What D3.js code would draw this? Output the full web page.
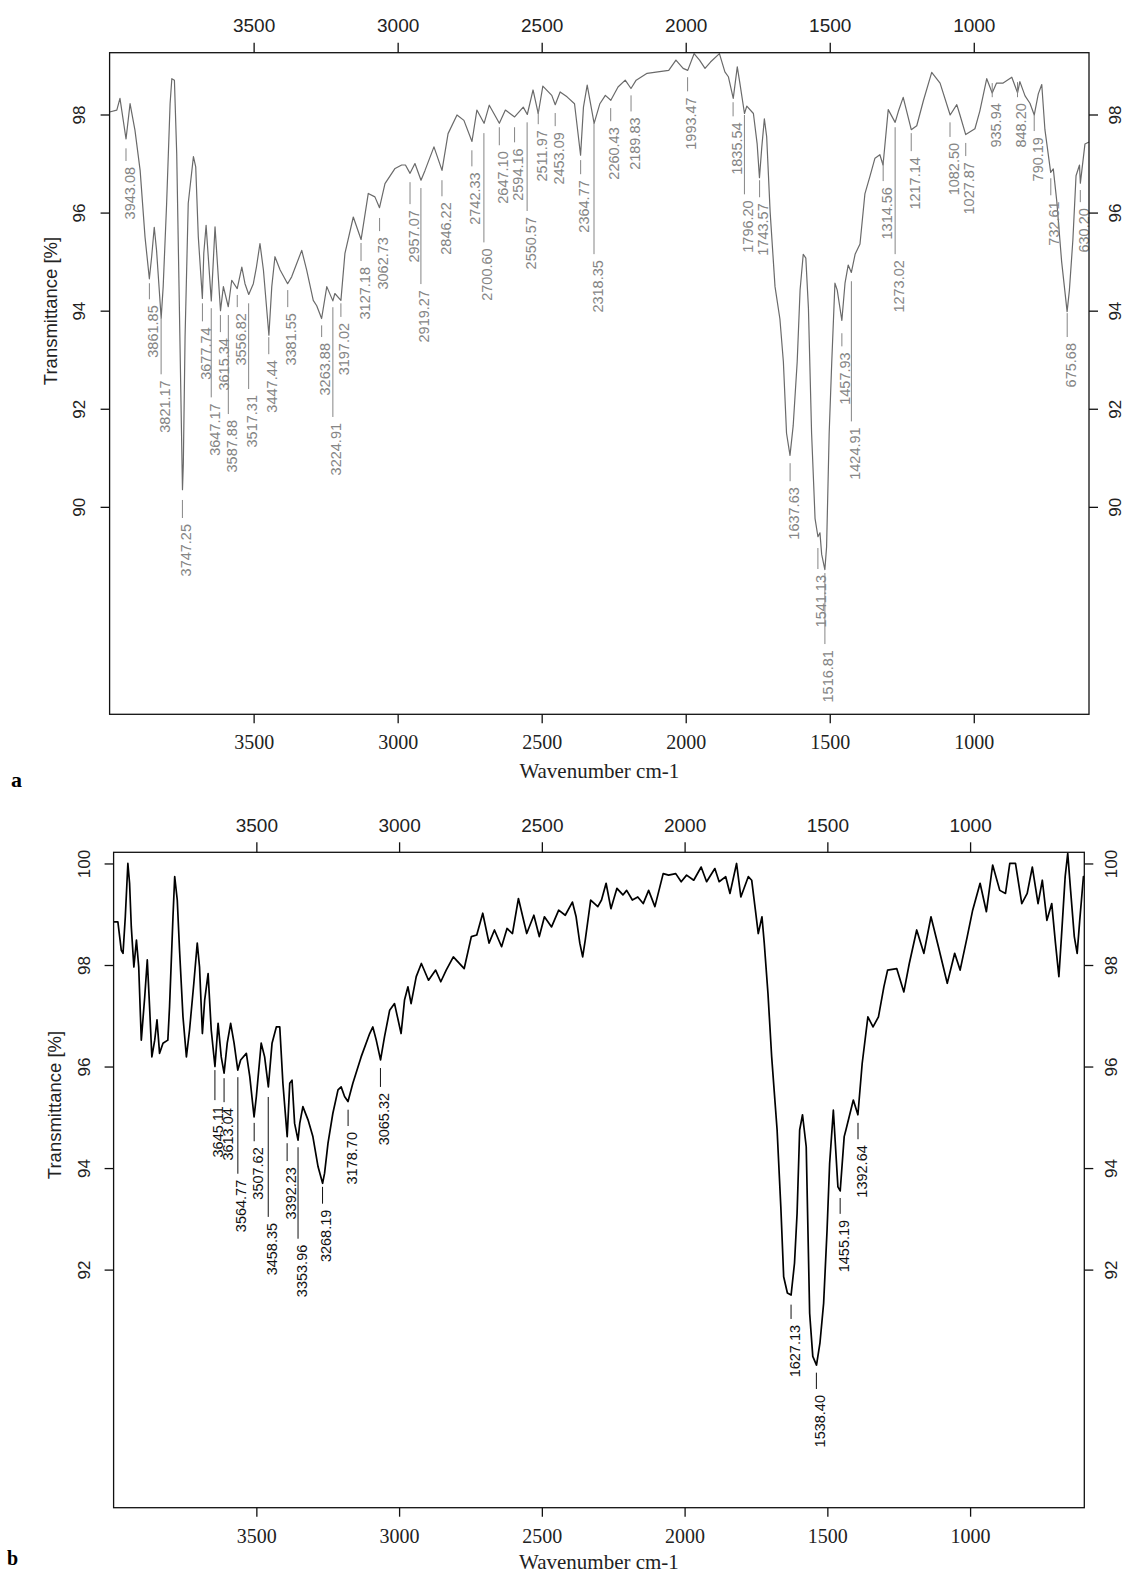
<!DOCTYPE html>
<html><head><meta charset="utf-8">
<script src="https://cdn.jsdelivr.net/npm/d3@7"></script>
<style>body{margin:0;background:#fff}svg{display:block}</style>
</head><body>
<script>
// ---------- DATA ----------
const xTicks = [3500, 3000, 2500, 2000, 1500, 1000];
const yTicksA = [98, 96, 94, 92, 90];
const yTicksB = [100, 98, 96, 94, 92];

// Spectrum a : wavenumber (cm-1) and transmittance (%)
const wnA = [4000,3975,3964,3943,3929,3912,3894,3877,3862,3854,3845,3837,3821,3814,3802,3790,3784,3775,3767,3759,3747,3744,3738,3727,3709,3701,3692,3678,3673,3665,3647,3634,3615,3605,3588,3576,3557,3541,3530,3517,3501,3490,3478,3466,3447,3437,3426,3408,3382,3368,3333,3316,3293,3281,3264,3246,3225,3218,3197,3183,3154,3127,3102,3079,3063,3044,3009,2986,2973,2957,2940,2919,2905,2874,2846,2825,2794,2770,2742,2725,2700,2682,2647,2626,2594,2564,2550,2530,2512,2496,2465,2453,2436,2412,2386,2365,2355,2342,2318,2298,2279,2260,2235,2210,2190,2172,2134,2097,2059,2034,2009,1993,1971,1952,1933,1914,1883,1864,1852,1835,1821,1812,1796,1788,1765,1752,1744,1736,1727,1719,1707,1690,1673,1661,1650,1638,1627,1613,1603,1592,1583,1574,1563,1551,1541,1534,1528,1517,1511,1502,1493,1482,1474,1458,1447,1436,1425,1412,1395,1378,1360,1343,1326,1315,1297,1273,1262,1245,1217,1198,1175,1146,1117,1082,1059,1048,1028,996,979,955,936,921,898,868,848,840,822,805,790,776,764,753,733,724,712,695,676,668,656,645,633,630,614,600];
const tA = [98.05,98.09,98.33,97.5,98.22,97.68,96.86,95.5,94.65,95.1,95.7,95.23,93.85,94.49,96.19,98.22,98.73,98.7,97.2,94.49,90.35,90.89,93.47,96.19,97.14,96.93,95.5,94.25,95.17,95.74,94.2,95.71,94.0,94.49,94.08,94.62,94.45,94.89,94.55,94.33,94.55,94.9,95.37,94.83,93.5,94.49,95.1,94.83,94.55,94.69,95.23,94.83,94.21,94.1,93.84,94.49,94.2,94.35,94.21,95.17,95.91,95.45,96.39,96.32,96.1,96.59,96.9,96.97,96.97,96.8,97.0,96.66,96.86,97.34,96.86,97.61,97.99,97.88,97.45,98.09,97.82,98.19,97.82,98.09,97.95,98.15,98.0,98.5,98.02,98.58,98.39,98.2,98.46,98.36,98.22,97.17,98.15,98.6,97.82,98.22,98.39,98.29,98.56,98.7,98.53,98.7,98.84,98.87,98.9,99.11,98.94,98.9,99.24,99.11,98.94,99.07,99.24,98.87,98.77,98.33,98.97,98.64,98.02,98.17,98.02,97.4,96.71,97.33,97.91,97.55,96.02,94.49,93.83,92.96,91.5,91.05,91.65,92.96,94.42,95.15,95.07,94.05,91.5,89.76,89.39,89.47,89.03,88.72,89.18,91.5,92.96,94.56,94.42,93.8,94.56,94.93,94.78,95.15,95.36,96.38,96.75,97.11,97.18,96.97,98.1,97.84,98.06,98.35,97.69,97.77,98.28,98.86,98.64,97.99,98.2,97.99,97.59,97.71,98.07,98.73,98.44,98.64,98.64,98.76,98.44,98.67,98.38,98.23,97.99,98.42,98.61,97.69,96.82,96.89,96.24,95.0,93.98,94.42,95.44,96.75,96.97,96.6,97.4,97.44];

// Spectrum b
const wnB = [4000,3985,3973,3967,3959,3950,3944,3938,3929,3920,3912,3903,3891,3882,3874,3866,3856,3848,3839,3827,3810,3804,3792,3786,3777,3769,3757,3745,3734,3719,3707,3699,3689,3681,3669,3658,3645,3634,3623,3613,3602,3590,3578,3565,3555,3535,3523,3508,3500,3483,3471,3458,3445,3430,3418,3407,3392,3383,3375,3366,3354,3348,3337,3319,3302,3284,3268,3261,3249,3232,3214,3203,3191,3179,3162,3133,3103,3092,3080,3065,3051,3033,3016,2993,2981,2969,2958,2940,2922,2897,2872,2854,2835,2810,2772,2747,2728,2707,2685,2666,2641,2622,2603,2582,2553,2528,2509,2491,2466,2441,2418,2393,2380,2367,2357,2348,2329,2304,2291,2275,2258,2237,2216,2203,2183,2164,2145,2126,2104,2075,2056,2031,2012,1993,1968,1942,1923,1894,1879,1856,1841,1818,1803,1777,1765,1752,1742,1729,1721,1708,1695,1683,1676,1663,1653,1640,1627,1615,1606,1597,1587,1574,1562,1551,1538,1526,1513,1501,1492,1479,1463,1455,1441,1435,1409,1393,1378,1358,1340,1321,1302,1289,1257,1232,1213,1187,1162,1137,1111,1080,1054,1035,1010,991,965,943,921,896,876,861,841,819,800,782,762,747,731,714,701,689,680,667,658,648,635,625,616,603,600];
const tB = [98.85,98.85,98.29,98.23,98.95,100.0,99.61,98.75,97.96,98.49,97.96,96.52,97.37,98.10,97.18,96.19,96.52,96.92,96.26,96.46,96.52,97.18,98.95,99.74,99.28,98.29,96.98,96.19,96.72,97.64,98.43,97.96,96.65,97.31,97.83,96.72,96.0,96.85,96.19,95.87,96.46,96.85,96.46,95.93,96.13,96.26,95.80,95.01,95.41,96.46,96.19,95.60,96.46,96.78,96.78,95.67,94.62,95.67,95.73,94.88,94.55,94.88,95.21,94.95,94.62,94.03,93.70,93.90,94.49,95.08,95.54,95.60,95.41,95.31,95.67,96.19,96.65,96.78,96.52,96.13,96.59,97.11,97.24,96.65,97.31,97.57,97.24,97.77,98.03,97.70,97.90,97.67,97.90,98.16,97.93,98.56,98.59,99.02,98.43,98.69,98.36,98.72,98.62,99.31,98.62,98.98,98.56,98.95,98.75,99.08,98.98,99.24,98.95,98.43,98.16,98.49,99.28,99.15,99.28,99.61,99.11,99.51,99.38,99.47,99.28,99.34,99.21,99.47,99.15,99.80,99.77,99.80,99.64,99.77,99.67,99.93,99.64,99.90,99.64,99.74,99.41,100.0,99.34,99.74,99.67,99.08,98.62,98.95,98.43,97.44,96.19,95.28,94.75,93.24,91.86,91.54,91.5,92.13,93.11,94.75,95.05,94.42,91.14,90.29,90.12,90.55,91.34,92.78,94.09,95.14,93.63,93.55,94.62,94.75,95.34,95.05,96.06,96.98,96.78,96.98,97.57,97.90,97.93,97.47,98.03,98.69,98.23,98.95,98.36,97.64,98.23,97.90,98.56,99.08,99.61,99.05,99.97,99.47,99.41,100.0,100.0,99.21,99.41,99.93,99.21,99.67,98.88,99.21,98.43,97.77,98.56,99.74,100.2,99.47,98.56,98.23,98.88,99.74,99.74];

// Peak annotations, spectrum a (marker top / label top, in transmittance units)
const peaksA = ["3943.08","3861.85","3821.17","3747.25","3677.74","3647.17","3615.34","3587.88","3556.82","3517.31","3447.44","3381.55","3263.88","3224.91","3197.02","3127.18","3062.73","2957.07","2919.27","2846.22","2742.33","2700.60","2647.10","2594.16","2550.57","2511.97","2453.09","2364.77","2318.35","2260.43","2189.83","1993.47","1835.54","1796.20","1743.57","1637.63","1541.13","1516.81","1457.93","1424.91","1314.56","1273.02","1217.14","1082.50","1027.87","935.94","848.20","790.19","732.61","675.68","630.20"];
const markTopA = [97.31,94.56,93.85,90.14,94.15,94.05,93.91,93.91,94.32,94.15,93.46,94.42,93.70,94.07,94.15,95.38,95.89,96.62,96.50,96.66,97.27,97.62,97.74,97.74,97.84,98.09,98.03,97.07,97.82,98.13,98.39,98.76,98.25,97.99,96.66,90.89,89.16,88.65,93.54,94.60,97.07,97.74,97.62,97.84,97.42,98.64,98.66,97.99,96.70,93.95,96.46];
const labelTopA = [96.93,94.11,92.58,89.65,93.66,92.11,93.44,91.77,93.95,92.28,92.99,93.95,93.34,91.71,93.75,94.89,95.50,96.05,94.42,96.21,96.82,95.27,97.25,97.31,95.91,97.68,97.64,96.66,95.03,97.74,97.94,98.35,97.84,96.25,96.19,90.40,88.61,87.08,93.15,91.62,96.52,95.03,97.13,97.42,97.03,98.23,98.23,97.54,96.23,93.34,96.09];

// Peak annotations, spectrum b
const peaksB = ["3645.11","3613.04","3564.77","3507.62","3458.35","3392.23","3353.96","3268.19","3178.70","3065.32","1627.13","1538.40","1455.19","1392.64"];
const markTopB = [95.93,95.77,95.79,94.89,95.40,94.49,94.41,93.63,95.15,95.97,91.31,89.97,93.41,94.89];
const labelTopB = [95.22,95.18,93.77,94.41,92.92,94.02,92.49,93.18,94.71,95.48,90.91,89.53,92.98,94.45];

// ---------- DRAWING ----------
const W = 1128, H = 1573;
const SANS = '"Liberation Sans", Arial, Helvetica, sans-serif';
const SERIF = '"Liberation Serif", "Times New Roman", serif';
const svg = d3.select('body').append('svg').attr('width', W).attr('height', H);

function drawPanel(o) {
  const x = d3.scaleLinear().domain([4000, 600]).range([o.left, o.right]);
  const y = d3.scaleLinear().domain(o.yDomain).range([o.bottom, o.top]);
  const g = svg.append('g');

  // spectrum
  const pts = o.wn.map((w, i) => [w, o.t[i]]);
  g.append('path').datum(pts)
    .attr('d', d3.line().x(d => x(d[0])).y(d => y(d[1])))
    .attr('fill', 'none').attr('stroke', o.lineColor)
    .attr('stroke-width', o.lineWidth).attr('stroke-linejoin', 'round');

  // peak markers and labels
  o.peaks.forEach((p, i) => {
    const px = x(+p);
    const y0 = y(o.markTop[i]), yt = y(o.labelTop[i]);
    g.append('line').attr('x1', px).attr('x2', px).attr('y1', y0).attr('y2', yt - 6)
      .attr('stroke', o.labelColor).attr('stroke-width', 1);
    g.append('text')
      .attr('transform', `translate(${px + 3.5},${yt}) rotate(-90)`)
      .attr('text-anchor', 'end').attr('dy', '0.35em')
      .attr('font-family', SANS).attr('font-size', o.peakFont)
      .attr('fill', o.labelColor).text(p);
  });

  // frame
  g.append('rect').attr('x', o.left).attr('y', o.top)
    .attr('width', o.right - o.left).attr('height', o.bottom - o.top)
    .attr('fill', 'none').attr('stroke', '#111').attr('stroke-width', 1.3);

  const styleAxis = (sel, fam, size) => {
    sel.select('.domain').remove();
    sel.selectAll('line').attr('stroke', '#111').attr('stroke-width', 1.3);
    sel.selectAll('text').attr('font-family', fam).attr('font-size', size).attr('fill', '#222');
  };

  const gt = g.append('g').attr('transform', `translate(0,${o.top})`)
    .call(d3.axisTop(x).tickValues(xTicks).tickSize(10).tickPadding(o.topPad).tickFormat(d3.format('d')));
  styleAxis(gt, SANS, 19);

  const gb = g.append('g').attr('transform', `translate(0,${o.bottom})`)
    .call(d3.axisBottom(x).tickValues(xTicks).tickSize(9).tickPadding(o.botPad).tickFormat(d3.format('d')));
  styleAxis(gb, SERIF, 20);

  const gl = g.append('g').attr('transform', `translate(${o.left},0)`)
    .call(d3.axisLeft(y).tickValues(o.yTicks).tickSize(9).tickFormat(d3.format('d')));
  styleAxis(gl, SANS, 17);
  gl.selectAll('text').attr('x', 0).attr('dy', '0.35em').attr('text-anchor', 'middle')
    .attr('transform', `translate(${-o.yLabDist},0) rotate(-90)`);

  const gr = g.append('g').attr('transform', `translate(${o.right},0)`)
    .call(d3.axisRight(y).tickValues(o.yTicks).tickSize(9).tickFormat(d3.format('d')));
  styleAxis(gr, SANS, 17);
  gr.selectAll('text').attr('x', 0).attr('dy', '0.35em').attr('text-anchor', 'middle')
    .attr('transform', `translate(${o.yLabDistR},0) rotate(-90)`);

  // axis titles
  g.append('text').attr('transform', `translate(${o.yTitleX},${o.yTitleY}) rotate(-90)`)
    .attr('text-anchor', 'middle').attr('dy', '0.35em')
    .attr('font-family', SANS).attr('font-size', 18.5).attr('fill', '#222')
    .text('Transmittance [%]');
  g.append('text').attr('x', (o.left + o.right) / 2).attr('y', o.xTitleY)
    .attr('text-anchor', 'middle').attr('font-family', SERIF).attr('font-size', 21).attr('fill', '#222')
    .text('Wavenumber cm-1');
  g.append('text').attr('x', o.tagX).attr('y', o.tagY)
    .attr('font-family', SERIF).attr('font-weight', 'bold').attr('font-size', o.tagSize).attr('fill', '#000')
    .text(o.tag);
}

drawPanel({
  left: 109.6, right: 1089, top: 52.7, bottom: 714.3, yDomain: [85.77, 99.26],
  wn: wnA, t: tA, peaks: peaksA, markTop: markTopA, labelTop: labelTopA,
  yTicks: yTicksA, lineColor: '#6a6a6a', lineWidth: 1.2, labelColor: '#858585', peakFont: 14.5,
  topPad: 11, botPad: 12, yLabDist: 31, yLabDistR: 26, yTitleX: 51, yTitleY: 311, xTitleY: 778,
  tag: 'a', tagX: 11, tagY: 787, tagSize: 22
});

drawPanel({
  left: 113.6, right: 1084.3, top: 852.3, bottom: 1507.7, yDomain: [87.31, 100.22],
  wn: wnB, t: tB, peaks: peaksB, markTop: markTopB, labelTop: labelTopB,
  yTicks: yTicksB, lineColor: '#000', lineWidth: 1.7, labelColor: '#111', peakFont: 14.5,
  topPad: 10.5, botPad: 11.7, yLabDist: 29.7, yLabDistR: 27, yTitleX: 55, yTitleY: 1105, xTitleY: 1569,
  tag: 'b', tagX: 7, tagY: 1565, tagSize: 20
});
</script>
</body></html>
